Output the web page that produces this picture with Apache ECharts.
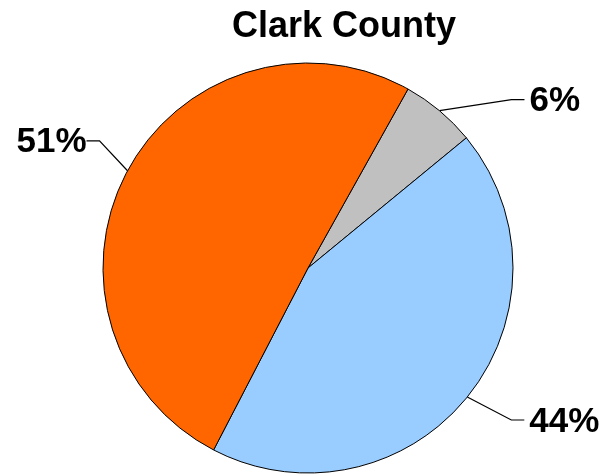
<!DOCTYPE html>
<html>
<head>
<meta charset="utf-8">
<script src="https://cdn.jsdelivr.net/npm/echarts@6/dist/echarts.min.js"></script>
<style>
  html, body { margin: 0; padding: 0; background: #ffffff; }
  #chart { width: 609px; height: 474px; }
</style>
</head>
<body>
<div id="chart"></div>
<script>
// Slice data, clockwise from the top-right
const categories = ['Other', 'Category B', 'Category A'];
const shares = [6, 44, 51];
const sliceColors = ['#C0C0C0', '#99CCFF', '#FF6600'];

// Leader line elbows, relative to where each line leaves the pie edge
const leaderElbow = [[72, -11], [44, 23], [-28, -30]];
const leaderTail = 13;
const labelGap = [5, 5, 0];

const chart = echarts.init(document.getElementById('chart'), null, { renderer: 'canvas' });

const pieData = categories.map((name, i) => ({
  name: name,
  value: shares[i],
  itemStyle: { color: sliceColors[i] }
}));

chart.setOption({
  animation: false,
  backgroundColor: '#ffffff',
  title: {
    text: 'Clark County',
    left: 339,
    top: 4,
    textAlign: 'center',
    textStyle: {
      fontFamily: 'Liberation Sans, Arial, sans-serif',
      fontWeight: 'bold',
      fontSize: 36,
      color: '#000000'
    }
  },
  series: [{
    type: 'pie',
    center: [308, 268],
    radius: [0, 205],
    startAngle: 60.8,
    clockwise: true,
    avoidLabelOverlap: false,
    itemStyle: { borderColor: '#000000', borderWidth: 1 },
    label: {
      show: true,
      position: 'outside',
      formatter: '{c}%',
      fontFamily: 'Liberation Sans, Arial, sans-serif',
      fontWeight: 'bold',
      fontSize: 35,
      color: '#000000'
    },
    labelLine: {
      show: true,
      length: 10,
      length2: 10,
      lineStyle: { color: '#000000', width: 1.2 }
    },
    labelLayout: function (params) {
      const i = params.dataIndex;
      const start = params.labelLinePoints[0];
      const elbow = [start[0] + leaderElbow[i][0], start[1] + leaderElbow[i][1]];
      const dir = leaderElbow[i][0] >= 0 ? 1 : -1;
      const end = [elbow[0] + dir * leaderTail, elbow[1]];
      return {
        x: end[0] + dir * labelGap[i],
        y: end[1] + 2,
        align: dir > 0 ? 'left' : 'right',
        verticalAlign: 'middle',
        labelLinePoints: [start, elbow, end]
      };
    },
    emphasis: { disabled: true },
    data: pieData
  }]
});
</script>
</body>
</html>
